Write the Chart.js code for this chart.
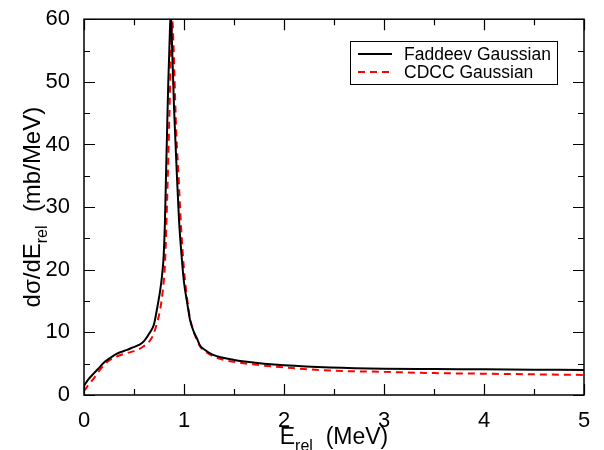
<!DOCTYPE html>
<html>
<head>
<meta charset="utf-8">
<script src="https://cdn.jsdelivr.net/npm/chart.js@4/dist/chart.umd.min.js"></script>
<style>
  html, body { margin: 0; padding: 0; background: #fff; }
  #wrap { width: 604px; height: 450px; }
</style>
</head>
<body>
<div id="wrap"><canvas id="c" width="604" height="450"></canvas></div>
<script>
// Faddeev Gaussian (black solid)
const faddeevE = [0, 0.05, 0.1, 0.16, 0.2, 0.26, 0.33, 0.43, 0.49, 0.55, 0.6, 0.66, 0.7, 0.733, 0.76, 0.78, 0.797, 0.81, 0.82, 0.832, 0.843, 0.855, 0.867,
  0.878, 0.89, 0.9, 0.913, 0.927, 0.95, 0.977, 1.0, 1.033, 1.06, 1.1, 1.13, 1.16, 1.2, 1.29, 1.4, 1.5, 1.63, 1.8, 2.0, 2.46, 3.0, 3.5, 4.0, 4.5, 5.0];
const faddeevXs = [1.5, 2.6, 3.5, 4.5, 5.2, 5.9, 6.6, 7.2, 7.6, 8.0, 8.6, 10.0, 11.3, 14.0, 16.5, 19.0, 22.3, 28.0, 35.0, 43.0, 50.0, 56.0, 61.0,
  57.0, 51.0, 46.0, 41.0, 35.8, 28.0, 22.0, 18.0, 14.6, 12.0, 10.0, 9.0, 7.9, 7.3, 6.4, 5.9, 5.6, 5.3, 5.0, 4.75, 4.4, 4.2, 4.15, 4.1, 4.05, 4.0];

// CDCC Gaussian (red dashed)
const cdccE = [0, 0.03, 0.1, 0.15, 0.2, 0.26, 0.3, 0.35, 0.43, 0.5, 0.59, 0.65, 0.69, 0.73, 0.76, 0.79, 0.81, 0.833, 0.853, 0.87, 0.883,
  0.895, 0.91, 0.925, 0.943, 0.97, 1.0, 1.03, 1.06, 1.1, 1.16, 1.2, 1.29, 1.4, 1.63, 2.0, 2.46, 3.0, 3.5, 4.0, 4.5, 5.0];
const cdccXs = [0.6, 1.3, 2.7, 3.8, 4.8, 5.6, 5.9, 6.3, 6.7, 7.0, 7.7, 8.5, 9.5, 11.5, 13.5, 17.0, 21.0, 32.0, 44.0, 55.0, 59.7,
  56.0, 48.0, 41.0, 35.8, 27.0, 20.0, 15.5, 12.3, 10.0, 7.8, 7.1, 6.2, 5.6, 5.0, 4.4, 3.9, 3.7, 3.5, 3.4, 3.3, 3.2];

const xTicks = [0, 1, 2, 3, 4, 5];
const yTicks = [0, 10, 20, 30, 40, 50, 60];

const FONT = '"Liberation Sans", Arial, Helvetica, sans-serif';

const toPoints = (xs, ys) => xs.map((v, i) => ({ x: v, y: ys[i] }));

// inward ticks on all four sides, frame, axis titles with subscripts, inset legend
const decor = {
  id: 'decor',
  afterDatasetsDraw(chart) {
    const { ctx, chartArea: a, scales: { x, y } } = chart;
    ctx.save();
    ctx.strokeStyle = '#000';
    ctx.lineWidth = 1.5;
    ctx.strokeRect(a.left, a.top, a.right - a.left, a.bottom - a.top);

    ctx.lineWidth = 1.2;
    ctx.beginPath();
    for (let v = 0; v <= 5.0001; v += 0.5) {
      const px = Math.round(x.getPixelForValue(v)) + 0.5;
      const len = Math.abs(v - Math.round(v)) < 1e-6 ? 11 : 6;
      ctx.moveTo(px, a.bottom); ctx.lineTo(px, a.bottom - len);
      ctx.moveTo(px, a.top); ctx.lineTo(px, a.top + len);
    }
    for (let v = 0; v <= 60.0001; v += 5) {
      const py = Math.round(y.getPixelForValue(v)) + 0.5;
      const len = v % 10 === 0 ? 11 : 6;
      ctx.moveTo(a.left, py); ctx.lineTo(a.left + len, py);
      ctx.moveTo(a.right, py); ctx.lineTo(a.right - len, py);
    }
    ctx.stroke();

    ctx.fillStyle = '#000';
    ctx.textBaseline = 'alphabetic';
    const drawSub = (parts, cx, cy, size) => {
      const big = size + 'px ' + FONT, small = Math.round(size * 0.68) + 'px ' + FONT;
      let w = 0;
      parts.forEach(p => { ctx.font = p.sub ? small : big; w += ctx.measureText(p.t).width; });
      let xx = cx - w / 2;
      parts.forEach(p => {
        ctx.font = p.sub ? small : big;
        ctx.textAlign = 'left';
        ctx.fillText(p.t, xx, cy + (p.sub ? size * 0.3 : 0));
        xx += ctx.measureText(p.t).width;
      });
    };
    // x title
    drawSub([{ t: 'E' }, { t: 'rel', sub: true }, { t: '  (MeV)' }], (a.left + a.right) / 2, 444, 23);

    // y title
    ctx.save();
    ctx.translate(40, (a.top + a.bottom) / 2);
    ctx.rotate(-Math.PI / 2);
    drawSub([{ t: 'dσ/dE' }, { t: 'rel', sub: true }, { t: '  (mb/MeV)' }], 0, 0, 24);
    ctx.restore();

    // legend
    ctx.lineWidth = 1;
    ctx.strokeStyle = '#000';
    ctx.strokeRect(350.5, 41.5, 207, 43);
    ctx.font = '17.5px ' + FONT;
    ctx.textAlign = 'left';
    ctx.textBaseline = 'middle';
    const entries = [
      { label: chart.data.datasets[0].label, color: '#000', dash: [], yy: 54 },
      { label: chart.data.datasets[1].label, color: '#ff0000', dash: [7, 5], yy: 72 }
    ];
    entries.forEach(e => {
      ctx.strokeStyle = e.color;
      ctx.lineWidth = 2;
      ctx.setLineDash(e.dash);
      ctx.beginPath();
      ctx.moveTo(358, e.yy); ctx.lineTo(392, e.yy);
      ctx.stroke();
      ctx.setLineDash([]);
      ctx.fillStyle = '#000';
      ctx.fillText(e.label, 404, e.yy + 1);
    });
    ctx.restore();
  }
};

new Chart(document.getElementById('c').getContext('2d'), {
  type: 'line',
  data: {
    datasets: [
      {
        label: 'Faddeev Gaussian',
        data: toPoints(faddeevE, faddeevXs),
        borderColor: '#000',
        borderWidth: 2,
        pointRadius: 0,
        cubicInterpolationMode: 'monotone',
        fill: false
      },
      {
        label: 'CDCC Gaussian',
        data: toPoints(cdccE, cdccXs),
        borderColor: '#ff0000',
        borderWidth: 2,
        borderDash: [7, 5],
        pointRadius: 0,
        cubicInterpolationMode: 'monotone',
        fill: false
      }
    ]
  },
  options: {
    responsive: false,
    animation: false,
    layout: { padding: { top: 18, right: 20, left: 0, bottom: 0 } },
    plugins: { legend: { display: false }, tooltip: { enabled: false } },
    scales: {
      x: {
        type: 'linear',
        min: 0, max: 5,
        afterBuildTicks: s => { s.ticks = xTicks.map(v => ({ value: v })); },
        afterFit: s => { s.height = 55; },
        grid: { display: false },
        border: { display: false },
        ticks: { color: '#000', font: { family: FONT, size: 22 }, padding: 5, maxRotation: 0 }
      },
      y: {
        min: 0, max: 60,
        afterBuildTicks: s => { s.ticks = yTicks.map(v => ({ value: v })); },
        afterFit: s => { s.width = 84; },
        grid: { display: false },
        border: { display: false },
        ticks: { color: '#000', font: { family: FONT, size: 22 }, padding: 6 }
      }
    }
  },
  plugins: [decor]
});
</script>
</body>
</html>
